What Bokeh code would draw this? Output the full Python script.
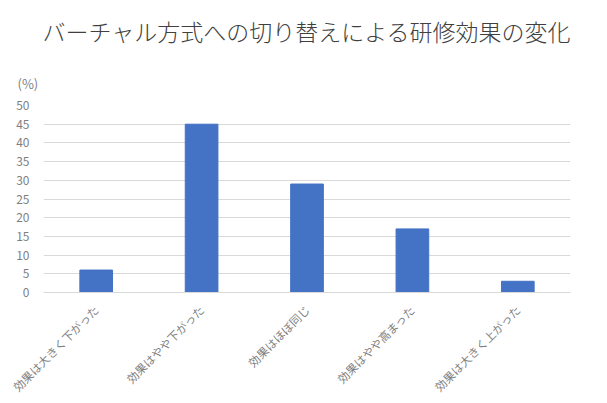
import math
from bokeh.plotting import figure
from bokeh.models import Range1d, FactorRange, FixedTicker, Title
from bokeh.embed import file_html
from bokeh.resources import INLINE

title_text = "バーチャル方式への切り替えによる研修効果の変化"
categories = ["効果は大きく下がった", "効果はやや下がった", "効果はほぼ同じ", "効果はやや高まった", "効果は大きく上がった"]
values = [6, 45, 29, 17, 3]
y_ticks = [0, 5, 10, 15, 20, 25, 30, 35, 40, 45, 50]
unit_label = "(%)"

FONT = "Noto Sans CJK JP"
TITLE_FONT = "'Noto Sans CJK JP Light', 'Noto Sans CJK JP'"

p = figure(x_range=FactorRange(*categories, range_padding=0),
           y_range=Range1d(0, 50),
           width=607, height=403,
           output_backend="svg", toolbar_location=None,
           min_border_left=43, min_border_right=37,
           min_border_top=105, min_border_bottom=110)

p.vbar(x=categories, top=values, width=0.31, color="#4472C4")

p.outline_line_color = None
p.xgrid.grid_line_color = None
p.ygrid.grid_line_color = "#d9d9d9"
p.yaxis.ticker = FixedTicker(ticks=y_ticks)

p.yaxis.axis_line_color = None
p.yaxis.major_tick_line_color = None
p.yaxis.minor_tick_line_color = None
p.yaxis.major_label_text_font = FONT
p.yaxis.major_label_text_font_size = "12px"
p.yaxis.major_label_text_color = "#7f7f7f"
p.yaxis.major_label_standoff = 8

p.xaxis.axis_line_color = "#d9d9d9"
p.xaxis.major_tick_line_color = None
p.xaxis.minor_tick_line_color = None
p.xaxis.major_label_orientation = math.pi / 4
p.xaxis.major_label_text_font = FONT
p.xaxis.major_label_text_font_size = "11.5px"
p.xaxis.major_label_text_color = "#7f7f7f"
p.xaxis.major_label_standoff = 9

pct = Title(text=unit_label, align="left", offset=-26, standoff=26,
            text_font=FONT, text_font_size="13px", text_font_style="normal",
            text_color="#7f7f7f")
p.add_layout(pct, "above")

main = Title(text=title_text, align="center", standoff=21,
             text_font=TITLE_FONT, text_font_size="23px", text_font_style="normal",
             text_color="#404040")
p.add_layout(main, "above")

open("out.html", "w").write(file_html(p, INLINE))
